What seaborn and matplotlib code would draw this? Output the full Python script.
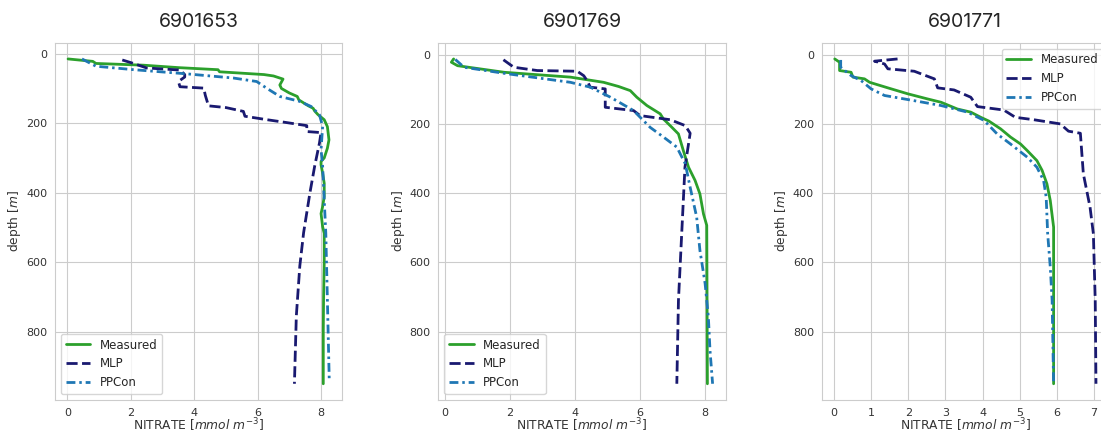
import numpy as np
import pandas as pd
import matplotlib
matplotlib.use("Agg")
import matplotlib.pyplot as plt
import seaborn as sns

titles = ["6901653", "6901769", "6901771"]

# Panel 1 (6901653)
meas1_d = [15, 22, 28, 33, 40, 46, 52, 60, 64, 73, 90, 100, 113, 123, 133, 150, 157, 165, 175, 190, 210, 248, 272, 300, 310, 320, 344, 373, 411, 440, 460, 498, 517, 600, 700, 800, 950]
meas1_v = [0.02, 0.8, 0.9, 2.4, 3.5, 4.75, 4.8, 6.2, 6.5, 6.8, 6.7, 6.75, 7.0, 7.25, 7.3, 7.6, 7.75, 7.8, 7.9, 8.1, 8.2, 8.25, 8.2, 8.1, 8.0, 8.0, 8.05, 8.1, 8.1, 8.05, 8.0, 8.05, 8.1, 8.1, 8.08, 8.07, 8.07]
mlp1_d = [18, 27, 41, 47, 60, 67, 80, 95, 99, 120, 150, 155, 166, 180, 190, 198, 207, 224, 227, 257, 323, 400, 515, 611, 755, 950]
mlp1_v = [1.73, 2.05, 2.5, 3.55, 3.7, 3.7, 3.5, 3.55, 4.3, 4.35, 4.45, 5.0, 5.55, 5.6, 6.3, 6.9, 7.55, 7.55, 8.0, 7.95, 7.8, 7.65, 7.45, 7.33, 7.22, 7.16]
ppc1_d = [15, 36, 46, 58, 70, 80, 99, 123, 137, 152, 176, 209, 276, 324, 421, 517, 709, 945]
ppc1_v = [0.46, 0.9, 2.1, 3.77, 5.24, 5.97, 6.28, 6.7, 7.32, 7.69, 7.95, 8.05, 8.0, 8.05, 8.1, 8.15, 8.2, 8.26]

# Panel 2 (6901769)
meas2_d = [12.5, 22, 32, 51, 65, 80, 92, 104, 123, 147, 171, 186, 210, 229, 277, 325, 363, 402, 460, 493, 950]
meas2_v = [0.27, 0.2, 0.39, 1.82, 3.86, 4.88, 5.34, 5.7, 5.9, 6.21, 6.62, 6.72, 6.98, 7.18, 7.33, 7.49, 7.69, 7.84, 7.95, 8.05, 8.07]
mlp2_d = [15, 36.5, 46, 48, 61, 75, 94, 99, 152, 161.5, 176, 188, 205, 227, 325, 517, 710, 950]
mlp2_v = [1.8, 2.12, 2.84, 4.07, 4.27, 4.37, 4.47, 4.93, 4.93, 5.8, 6.0, 6.93, 7.39, 7.54, 7.38, 7.28, 7.18, 7.13]
ppc2_d = [14, 36.5, 54, 80, 94, 123, 161.5, 210, 238, 267, 315, 383, 469, 565, 661, 758, 854, 950]
ppc2_v = [0.32, 0.59, 1.82, 3.86, 4.47, 5.09, 5.8, 6.31, 6.72, 7.13, 7.39, 7.54, 7.74, 7.84, 8.0, 8.1, 8.15, 8.23]

# Panel 3 (6901771)
meas3_d = [12.5, 22, 46, 51, 65, 70, 80, 96, 113, 128, 137.5, 157, 166, 181, 192, 214, 238, 258, 277, 306, 334, 373, 421, 498, 950]
meas3_v = [0.02, 0.15, 0.15, 0.46, 0.51, 0.82, 0.96, 1.45, 1.98, 2.52, 2.88, 3.32, 3.68, 3.95, 4.17, 4.48, 4.75, 5.02, 5.2, 5.46, 5.6, 5.73, 5.82, 5.91, 5.91]
mlp3_d = [12.5, 19, 27, 41, 48, 70, 96, 102, 123, 150, 160, 181, 188, 200, 221, 227, 344, 440, 517, 710, 950]
mlp3_v = [1.71, 1.09, 1.36, 1.45, 2.16, 2.7, 2.79, 3.23, 3.68, 3.86, 4.57, 4.88, 5.38, 6.09, 6.31, 6.63, 6.71, 6.89, 6.98, 7.03, 7.05]
ppc3_d = [15.4, 36.5, 60.6, 75, 99, 118, 133, 147, 166, 190, 229, 258, 296, 325, 363, 411, 517, 613, 710, 950]
ppc3_v = [0.18, 0.18, 0.46, 0.73, 1.0, 1.36, 2.16, 2.88, 3.59, 4.04, 4.39, 4.75, 5.2, 5.46, 5.64, 5.71, 5.75, 5.82, 5.87, 5.91]

series_names = ["Measured", "MLP", "PPCon"]
legend_locs = ["lower left", "lower left", "upper right"]

panels = [
    [(meas1_v, meas1_d), (mlp1_v, mlp1_d), (ppc1_v, ppc1_d)],
    [(meas2_v, meas2_d), (mlp2_v, mlp2_d), (ppc2_v, ppc2_d)],
    [(meas3_v, meas3_d), (mlp3_v, mlp3_d), (ppc3_v, ppc3_d)],
]

sns.set_style("whitegrid")
plt.rcParams['font.family'] = ['DejaVu Sans']

colors = ["#2ca02c", "#191970", "#1f77b4"]
styles = ["-", "--", "-."]
dash_patterns = [None, (4.0, 1.6), (3.2, 1.4, 0.9, 1.4)]

fig = plt.figure(figsize=(11.01, 4.33), dpi=100)
lefts = [0.04995, 0.3981, 0.7463]
for i, (left, series, title, loc) in enumerate(zip(lefts, panels, titles, legend_locs)):
    ax = fig.add_axes([left, 0.0762, 0.261, 0.8252])
    for (v, d), name, c, ls, dp in zip(series, series_names, colors, styles, dash_patterns):
        sns.lineplot(x=v, y=d, sort=False, estimator=None, ax=ax, color=c,
                     linestyle=ls, linewidth=2, label=name)
        if dp is not None:
            ax.lines[-1].set_dashes(dp)
    ax.invert_yaxis()
    ax.set_yticks([0, 200, 400, 600, 800])
    ax.set_title(title, fontsize=14, family=["Inter", "DejaVu Sans"], pad=11)
    ax.set_xlabel(r"NITRATE [$mmol\ m^{-3}$]", fontsize=8.8, color="#333333", labelpad=-1)
    ax.set_ylabel(r"depth [$m$]", fontsize=8.8, color="#333333", labelpad=2)
    ax.tick_params(labelsize=8, colors="#333333", pad=2)
    ax.legend(loc=loc, fontsize=8.5, frameon=True, handlelength=2.1)

fig.savefig("out.png", dpi=100)
